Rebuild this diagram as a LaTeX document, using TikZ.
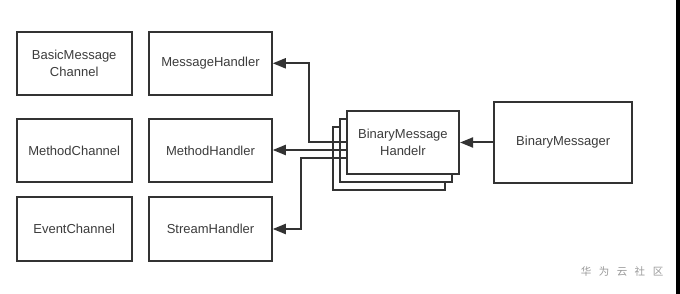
\documentclass[tikz,border=0pt]{standalone}
\usepackage{fontspec}
\setmainfont{Liberation Sans}
\newfontfamily\cjk{Noto Sans CJK SC}
\usetikzlibrary{arrows.meta}
\definecolor{ink}{HTML}{333333}
\definecolor{txt}{HTML}{3C3C3C}
\definecolor{wm}{HTML}{9A9A9A}
\begin{document}
\begin{tikzpicture}[x=1pt,y=-1pt,
  box/.style={draw=ink,line width=2pt,fill=white,text=txt,align=center,
    font=\fontsize{13}{17}\selectfont,inner sep=0pt},
  arr/.style={draw=ink,line width=2pt,-{Triangle[length=13pt,width=10pt]}}]
\useasboundingbox (0,0) rectangle (680,294);
\fill[white] (0,0) rectangle (680,294);
\fill[black] (676,0) rectangle (680,294);
% left column
\node[box,minimum width=115pt,minimum height=63.3pt] (bmc) at (74.2,63.3) {BasicMessage\\Channel};
\node[box,minimum width=115pt,minimum height=63.3pt] (mc) at (74.2,150.7) {MethodChannel};
\node[box,minimum width=115pt,minimum height=63.3pt] (ec) at (74.2,229) {EventChannel};
% handler column
\node[box,minimum width=122.5pt,minimum height=63.3pt] (mh) at (210.5,63.3) {MessageHandler};
\node[box,minimum width=122.5pt,minimum height=63.3pt] (mth) at (210.5,150.7) {MethodHandler};
\node[box,minimum width=122.5pt,minimum height=63.3pt] (sh) at (210.5,229) {StreamHandler};
% stacked binary message handlers
\node[box,minimum width=112.3pt,minimum height=63.3pt] (b3) at (388.9,158.4) {};
\node[box,minimum width=112.3pt,minimum height=63.3pt] (b2) at (395.8,150.5) {};
\node[box,minimum width=112.3pt,minimum height=63.3pt] (front) at (402.9,142.5) {BinaryMessage\\Handelr};
% binary messager
\node[box,minimum width=137.7pt,minimum height=81.6pt] (bm) at (563.2,142.5) {BinaryMessager};
% connector start points
\coordinate (s2) at ([yshift=-7.5pt]front.west);
\coordinate (s3) at ([yshift=-15.8pt]front.west);
% connectors
\draw[arr] (bm.west) -- (front.east);
\draw[arr] (front.west) -- ++(-36.7,0) |- (mh.east);
\draw[arr] (s2) -- (s2 -| mth.east);
\draw[arr] (s3) -- ++(-44.7,0) |- (sh.east);
% watermark
\node[text=wm,font=\cjk\fontsize{10.5}{12}\selectfont,inner sep=0pt] (wmk) at (622,272)
  {华\hspace{7.5pt}为\hspace{7.5pt}云\hspace{7.5pt}社\hspace{7.5pt}区};
\end{tikzpicture}
\end{document}
